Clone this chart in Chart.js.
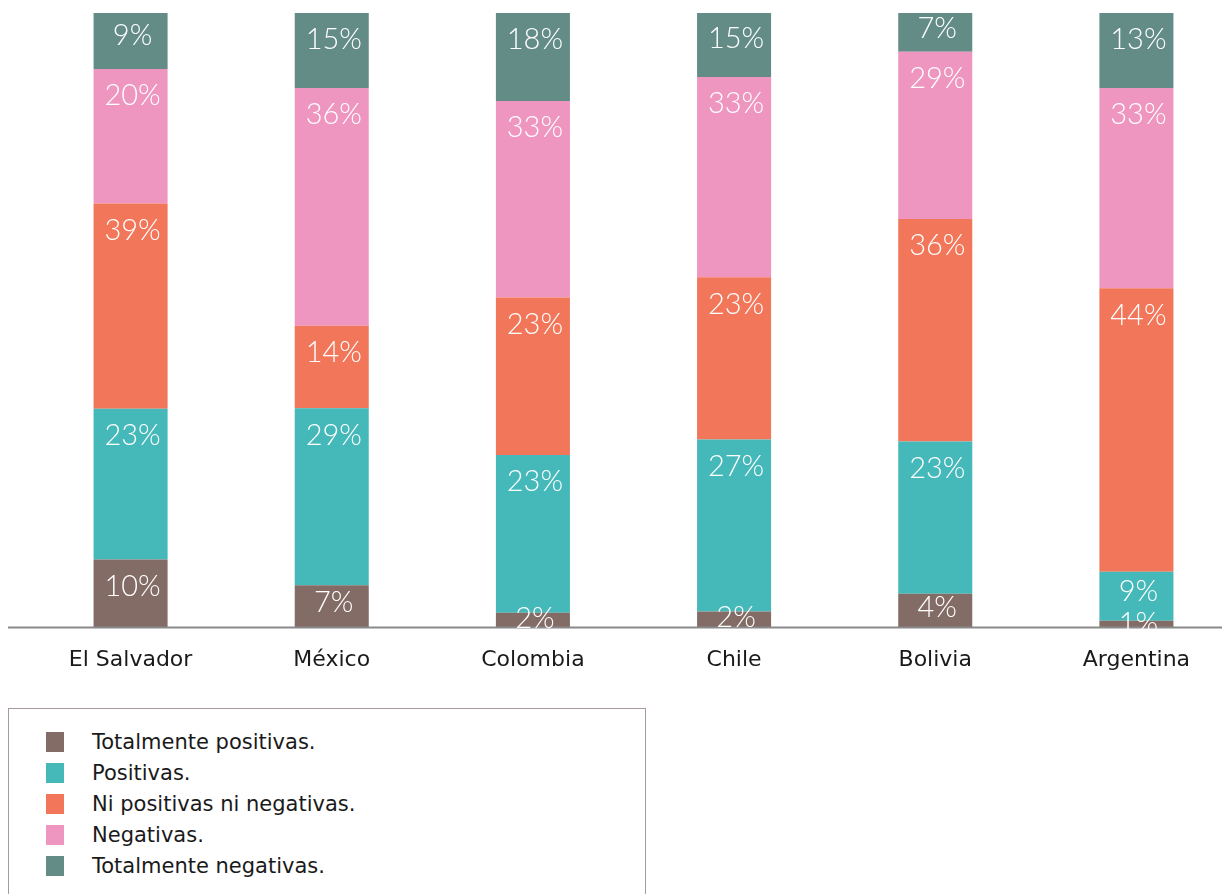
<!DOCTYPE html>
<html>
<head>
<meta charset="utf-8">
<script src="https://cdn.jsdelivr.net/npm/chart.js@4.4.1/dist/chart.umd.min.js"></script>
<style>
  body { margin: 0; background: #ffffff; width: 1222px; height: 894px; overflow: hidden; position: relative; }
  #chart-box { position: absolute; left: 0; top: 0; width: 1237px; height: 684px; }
  #legend-box {
    position: absolute; left: 8px; top: 708px; width: 638px; height: 200px;
    border: 1px solid #a89b99; box-sizing: border-box; padding-top: 17px;
  }
  .legend-row { display: flex; align-items: center; height: 31px; }
  .legend-swatch { width: 18px; height: 20px; margin-left: 37px; margin-right: 28px; }
  .legend-text { font-family: "DejaVu Sans", sans-serif; font-size: 21px; color: #1a1a1a; }
</style>
</head>
<body>
<div id="chart-box"><canvas id="myChart"></canvas></div>
<div id="legend-box"></div>

<script>
// categories
const countries = ['El Salvador', 'México', 'Colombia', 'Chile', 'Bolivia', 'Argentina'];

// bar segment heights (share of bar)
const totalmentePositivas = [11.1, 6.9, 2.4, 2.6, 5.5, 1.1];
const positivas = [24.5, 28.8, 25.7, 28.0, 24.8, 8.0];
const niPositivasNiNegativas = [33.4, 13.4, 25.6, 26.4, 36.2, 46.1];
const negativas = [21.9, 38.7, 32.0, 32.6, 27.2, 32.6];
const totalmenteNegativas = [9.1, 12.2, 14.3, 10.4, 6.3, 12.2];

// printed labels on each segment
const lblTotalmentePositivas = ['10%', '7%', '2%', '2%', '4%', '1%'];
const lblPositivas = ['23%', '29%', '23%', '27%', '23%', '9%'];
const lblNiPositivasNiNegativas = ['39%', '14%', '23%', '23%', '36%', '44%'];
const lblNegativas = ['20%', '36%', '33%', '33%', '29%', '33%'];
const lblTotalmenteNegativas = ['9%', '15%', '18%', '15%', '7%', '13%'];

// draws the gray base line across the visible width
const baseLinePlugin = {
    id: 'baseLine',
    afterDatasetsDraw(chart) {
        const ctx = chart.ctx;
        const y = chart.scales.y.getPixelForValue(0);
        ctx.save();
        ctx.strokeStyle = '#8a8a8a';
        ctx.lineWidth = 2;
        ctx.beginPath();
        ctx.moveTo(8, y);
        ctx.lineTo(chart.width, y);
        ctx.stroke();
        ctx.restore();
    }
};

// white percent labels near the top of every segment
const segmentLabelPlugin = {
    id: 'segmentLabels',
    afterDatasetsDraw(chart) {
        const ctx = chart.ctx;
        ctx.save();
        ctx.fillStyle = '#ffffff';
        ctx.font = '300 29px Lato, "DejaVu Sans", sans-serif';
        ctx.textAlign = 'center';
        ctx.textBaseline = 'middle';
        chart.data.datasets.forEach(function (ds, i) {
            const meta = chart.getDatasetMeta(i);
            meta.data.forEach(function (bar, j) {
                const h = bar.base - bar.y;
                const y = bar.y + Math.min(27, h * 0.4);
                ctx.fillText(ds.printed[j], bar.x + 2, y);
            });
        });
        ctx.restore();
    }
};

function buildLegend(chart) {
    const box = document.getElementById('legend-box');
    chart.data.datasets.forEach(function (ds) {
        const row = document.createElement('div');
        row.className = 'legend-row';
        const sw = document.createElement('div');
        sw.className = 'legend-swatch';
        sw.style.backgroundColor = ds.backgroundColor;
        const txt = document.createElement('span');
        txt.className = 'legend-text';
        txt.textContent = ds.label;
        row.appendChild(sw);
        row.appendChild(txt);
        box.appendChild(row);
    });
}

const ctx = document.getElementById('myChart').getContext('2d');
const myChart = new Chart(ctx, {
    type: 'bar',
    data: {
        labels: countries,
        datasets: [
            { label: 'Totalmente positivas.', data: totalmentePositivas, printed: lblTotalmentePositivas, backgroundColor: '#836c66' },
            { label: 'Positivas.', data: positivas, printed: lblPositivas, backgroundColor: '#45b8b9' },
            { label: 'Ni positivas ni negativas.', data: niPositivasNiNegativas, printed: lblNiPositivasNiNegativas, backgroundColor: '#f2765a' },
            { label: 'Negativas.', data: negativas, printed: lblNegativas, backgroundColor: '#ee96c0' },
            { label: 'Totalmente negativas.', data: totalmenteNegativas, printed: lblTotalmenteNegativas, backgroundColor: '#648c87' }
        ]
    },
    options: {
        responsive: true,
        maintainAspectRatio: false,
        animation: false,
        layout: { padding: { top: 13, left: 30, right: 0, bottom: 0 } },
        datasets: {
            bar: { barPercentage: 1, categoryPercentage: 0.368, borderWidth: 0 }
        },
        plugins: {
            legend: { display: false },
            tooltip: { enabled: false }
        },
        scales: {
            x: {
                stacked: true,
                grid: { display: false },
                border: { display: false },
                ticks: {
                    padding: 11,
                    color: '#1a1a1a',
                    font: { family: '"DejaVu Sans", sans-serif', size: 22 }
                }
            },
            y: {
                stacked: true,
                min: 0,
                max: 100,
                display: false
            }
        }
    },
    plugins: [baseLinePlugin, segmentLabelPlugin]
});

buildLegend(myChart);
</script>
</body>
</html>
